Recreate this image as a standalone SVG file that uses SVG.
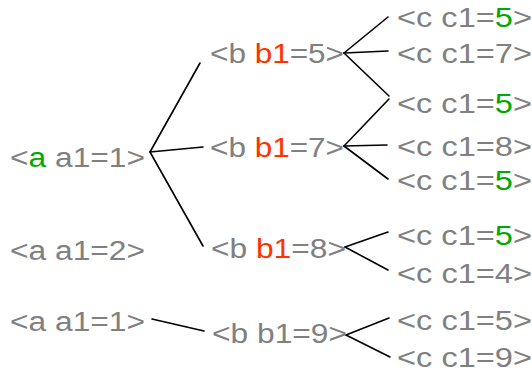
<svg xmlns="http://www.w3.org/2000/svg" width="532" height="374" viewBox="0 0 532 374">
<style>
text{font-family:"Liberation Sans",Arial,sans-serif;font-size:27px;fill:#808080}
.g{fill:#00a800}
.r{fill:#ff3300}
#connectors line{stroke:#000;stroke-width:1.6;stroke-linecap:round}
</style>
<rect width="532" height="374" fill="#fff"/>
<g id="connectors">
<line x1="150" y1="152" x2="200" y2="63"/>
<line x1="150" y1="152" x2="203" y2="147"/>
<line x1="150" y1="152" x2="203" y2="246"/>
<line x1="152" y1="319" x2="204" y2="331"/>
<line x1="344" y1="53" x2="388" y2="17"/>
<line x1="344" y1="53" x2="388" y2="51"/>
<line x1="344" y1="53" x2="389" y2="96"/>
<line x1="344" y1="146" x2="389" y2="99"/>
<line x1="344" y1="146" x2="387" y2="145"/>
<line x1="344" y1="146" x2="388" y2="179"/>
<line x1="345" y1="247" x2="388" y2="232"/>
<line x1="345" y1="247" x2="388" y2="270"/>
<line x1="346" y1="335" x2="389" y2="318"/>
<line x1="346" y1="335" x2="390" y2="357"/>
</g>
<g id="a1"><text x="10" y="167" textLength="135" lengthAdjust="spacingAndGlyphs">&lt;<tspan class="g">a</tspan> a1=1&gt;</text></g>
<g id="a2"><text x="10" y="260" textLength="135" lengthAdjust="spacingAndGlyphs">&lt;a a1=2&gt;</text></g>
<g id="a3"><text x="10" y="331" textLength="135" lengthAdjust="spacingAndGlyphs">&lt;a a1=1&gt;</text></g>
<g id="b5"><text x="210" y="63" textLength="134" lengthAdjust="spacingAndGlyphs">&lt;b <tspan class="r">b1</tspan>=5&gt;</text></g>
<g id="b7"><text x="210" y="157" textLength="134" lengthAdjust="spacingAndGlyphs">&lt;b <tspan class="r">b1</tspan>=7&gt;</text></g>
<g id="b8"><text x="211" y="258" textLength="135" lengthAdjust="spacingAndGlyphs">&lt;b <tspan class="r">b1</tspan>=8&gt;</text></g>
<g id="b9"><text x="212" y="343" textLength="135" lengthAdjust="spacingAndGlyphs">&lt;b b1=9&gt;</text></g>
<g id="c1"><text x="397" y="27" textLength="135" lengthAdjust="spacingAndGlyphs">&lt;c c1=<tspan class="g">5</tspan>&gt;</text></g>
<g id="c2"><text x="397" y="63" textLength="135" lengthAdjust="spacingAndGlyphs">&lt;c c1=7&gt;</text></g>
<g id="c3"><text x="397" y="113" textLength="135" lengthAdjust="spacingAndGlyphs">&lt;c c1=<tspan class="g">5</tspan>&gt;</text></g>
<g id="c4"><text x="397" y="156" textLength="135" lengthAdjust="spacingAndGlyphs">&lt;c c1=8&gt;</text></g>
<g id="c5"><text x="397" y="190" textLength="135" lengthAdjust="spacingAndGlyphs">&lt;c c1=<tspan class="g">5</tspan>&gt;</text></g>
<g id="c6"><text x="397" y="245" textLength="135" lengthAdjust="spacingAndGlyphs">&lt;c c1=<tspan class="g">5</tspan>&gt;</text></g>
<g id="c7"><text x="397" y="283" textLength="135" lengthAdjust="spacingAndGlyphs">&lt;c c1=4&gt;</text></g>
<g id="c8"><text x="397" y="330" textLength="135" lengthAdjust="spacingAndGlyphs">&lt;c c1=5&gt;</text></g>
<g id="c9"><text x="397" y="367" textLength="135" lengthAdjust="spacingAndGlyphs">&lt;c c1=9&gt;</text></g>
</svg>
